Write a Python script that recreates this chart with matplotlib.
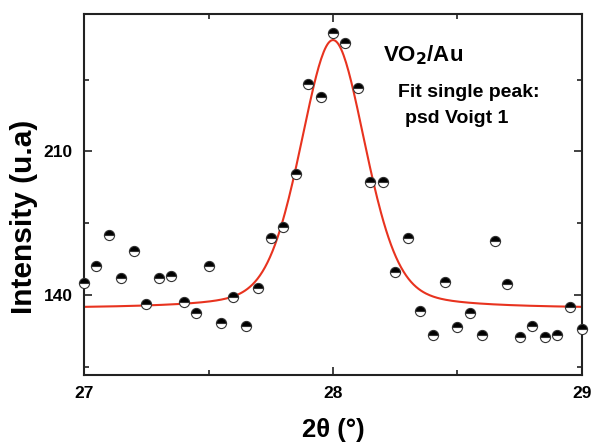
import numpy as np
import matplotlib.pyplot as plt
from matplotlib.ticker import MultipleLocator

plt.rcParams['font.family'] = ['Liberation Sans', 'DejaVu Sans']
plt.rcParams['font.weight'] = 'bold'

# ── Measured XRD scan around the VO2 peak ─────────────────────────
two_theta = [27.00, 27.05, 27.10, 27.15, 27.20, 27.25, 27.30, 27.35, 27.40, 27.45,
             27.50, 27.55, 27.60, 27.65, 27.70, 27.75, 27.80, 27.85, 27.90, 27.95,
             28.00, 28.05, 28.10, 28.15, 28.20, 28.25, 28.30, 28.35, 28.40, 28.45,
             28.50, 28.55, 28.60, 28.65, 28.70, 28.75, 28.80, 28.85, 28.90, 28.95,
             29.00]
intensity = [145.7, 154.2, 169.2, 148.1, 161.4, 135.5, 148.1, 149.2, 136.4, 131.1,
             154.2, 126.2, 139.2, 125.1, 143.3, 168.0, 173.2, 199.0, 242.7, 236.6,
             267.9, 262.9, 240.8, 195.1, 195.1, 151.2, 168.0, 132.4, 120.4, 146.2,
             124.3, 131.1, 120.4, 166.3, 145.2, 119.4, 125.1, 119.4, 120.4, 134.3,
             123.3]

# ── psd Voigt 1 fit parameters ────────────────────────────────────
fit_y0 = 133.3      # baseline
fit_xc = 28.0       # peak centre
fit_w = 0.31        # FWHM
fit_h = 131.0       # peak height above baseline
fit_mu = 0.3        # Lorentzian fraction


def psd_voigt(x):
    lor = 1.0 / (1.0 + 4.0 * ((x - fit_xc) / fit_w) ** 2)
    gau = np.exp(-4.0 * np.log(2) * ((x - fit_xc) / fit_w) ** 2)
    return fit_y0 + fit_h * (fit_mu * lor + (1 - fit_mu) * gau)


x_fit = np.linspace(27.0, 29.0, 400)

fig = plt.figure(figsize=(5.92, 4.44), dpi=100)
ax = fig.add_axes([0.1419, 0.1554, 0.8412, 0.8131])

ax.plot(x_fit, psd_voigt(x_fit), color='#e8331f', lw=1.5, zorder=2)
ax.plot(two_theta, intensity, 'o', ms=7.3, fillstyle='top',
        markerfacecolor='black', markerfacecoloralt='white',
        markeredgecolor='#333333', markeredgewidth=0.8, clip_on=False, zorder=3)

ax.set_xlim(27, 29)
ax.set_ylim(101, 277)
ax.xaxis.set_major_locator(MultipleLocator(1))
ax.xaxis.set_minor_locator(MultipleLocator(0.5))
ax.yaxis.set_major_locator(MultipleLocator(70))
ax.yaxis.set_minor_locator(MultipleLocator(35))
ax.tick_params(which='both', direction='in', top=True, right=True,
               width=1.2, color='#222222', labelsize=12.5)
ax.tick_params(which='major', length=6, pad=8)
ax.tick_params(which='minor', length=3.5)
for lab in ax.get_xticklabels() + ax.get_yticklabels():
    lab.set_fontweight('bold')
for sp in ax.spines.values():
    sp.set_linewidth(1.5)
    sp.set_color('#222222')

ax.set_xlabel('2θ (°)', fontsize=18.5, fontweight='bold', labelpad=12)
ax.set_ylabel('Intensity (u.a)', fontsize=21.5, fontweight='bold')
ax.yaxis.set_label_coords(-0.093, 0.4377)

ax.text(28.2, 257, 'VO$_\\mathbf{2}$/Au', fontsize=16, fontweight='bold',
        va='center', ha='left')
ax.text(28.26, 238.5, 'Fit single peak:', fontsize=14, fontweight='bold',
        va='center', ha='left')
ax.text(28.29, 226, 'psd Voigt 1', fontsize=14, fontweight='bold',
        va='center', ha='left')

fig.savefig('out.png', dpi=100)
